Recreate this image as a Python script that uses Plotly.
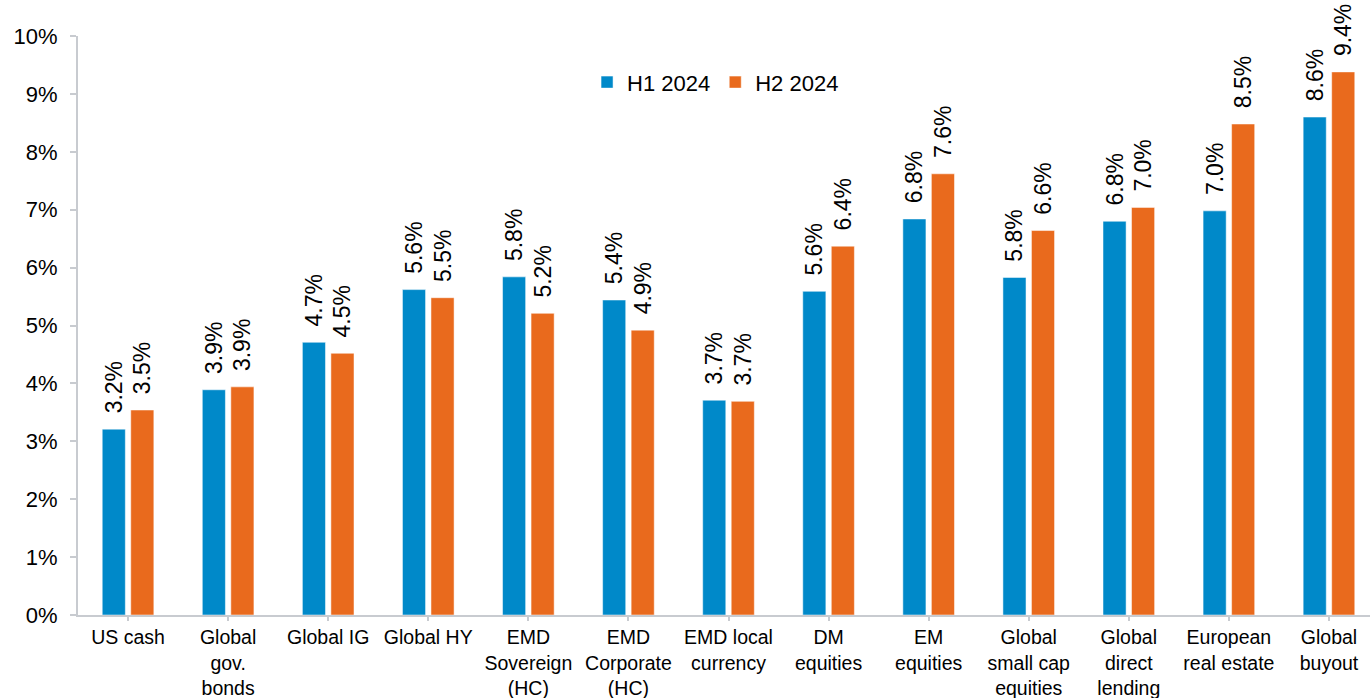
import plotly.graph_objects as go

categories = ["US cash", "Global<br>gov.<br>bonds", "Global IG", "Global HY",
              "EMD<br>Sovereign<br>(HC)", "EMD<br>Corporate<br>(HC)", "EMD local<br>currency",
              "DM<br>equities", "EM<br>equities", "Global<br>small cap<br>equities",
              "Global<br>direct<br>lending", "European<br>real estate", "Global<br>buyout"]
h1_2024 = [3.21, 3.89, 4.71, 5.62, 5.84, 5.44, 3.71, 5.59, 6.84, 5.83, 6.80, 6.98, 8.60]
h2_2024 = [3.54, 3.94, 4.52, 5.48, 5.21, 4.92, 3.69, 6.37, 7.62, 6.64, 7.04, 8.48, 9.38]
y_ticks = [0, 1, 2, 3, 4, 5, 6, 7, 8, 9, 10]
y_tick_labels = [f"{v}%" for v in y_ticks]

BLUE = "#0089C9"
ORANGE = "#E96A1D"
FONT = "Liberation Sans, Arial, sans-serif"
PAD = "\u00a0\u00a0"

fig = go.Figure()
for name, vals, col in [("H1 2024", h1_2024, BLUE), ("H2 2024", h2_2024, ORANGE)]:
    fig.add_trace(go.Bar(
        x=list(range(len(categories))), y=vals, name=name,
        marker=dict(color=col, line=dict(color="white", width=0.5)),
        text=[f"{PAD}{v:.1f}%" for v in vals], textposition="outside",
        textangle=-90, constraintext="none", cliponaxis=False,
        textfont=dict(family=FONT, size=23, color="#000000"),
    ))

fig.update_layout(
    width=1370, height=698,
    margin=dict(l=78, r=0, t=36, b=83),
    paper_bgcolor="white", plot_bgcolor="white",
    barmode="group", bargap=0.43, bargroupgap=0.19,
    font=dict(family=FONT, color="#000000"),
    showlegend=True,
    legend=dict(orientation="h", x=0.394, y=0.92, xanchor="left", yanchor="middle",
                font=dict(family=FONT, size=22, color="#000000"),
                bgcolor="rgba(0,0,0,0)", itemwidth=30, tracegroupgap=0),
    xaxis=dict(
        tickmode="array", tickvals=list(range(len(categories))), ticktext=categories,
        range=[-0.5, 12.41], showline=True, linecolor="#C8CBD0", linewidth=2,
        ticks="outside", tickson="boundaries", ticklen=4, tickcolor="#C8CBD0", tickwidth=2,
        tickfont=dict(family=FONT, size=19.5, color="#000000"), showgrid=False, zeroline=False,
        tickangle=0, automargin=False,
    ),
    yaxis=dict(
        range=[0, 10], tickmode="array", tickvals=y_ticks, ticktext=y_tick_labels,
        showline=True, linecolor="#C8CBD0", linewidth=2,
        ticks="outside", ticklen=6, tickcolor="#C8CBD0", tickwidth=2,
        tickfont=dict(family=FONT, size=22, color="#000000"), showgrid=False, zeroline=False,
        automargin=False, ticklabelstandoff=8,
    ),
)

fig.write_html("out.html")
